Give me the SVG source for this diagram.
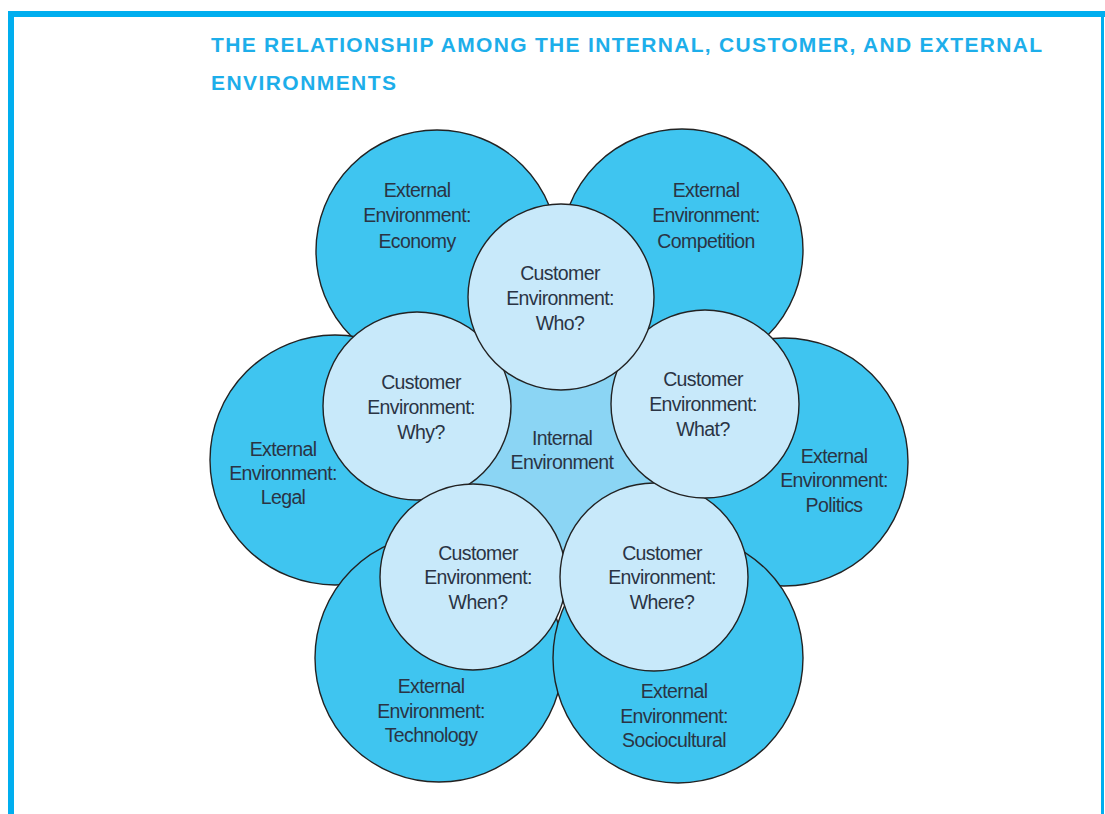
<svg xmlns="http://www.w3.org/2000/svg" width="1105" height="814" viewBox="0 0 1105 814">
<style>
.ext{fill:#3fc5f0;stroke:#222;stroke-width:1.4}
.cus{fill:#c8e9fa;stroke:#222;stroke-width:1.4}
.int{fill:#8bd5f4;stroke:#222;stroke-width:1.4}
.lbl{font-family:"Liberation Sans",Arial,sans-serif;font-size:19.5px;fill:#2a3444;text-anchor:middle;letter-spacing:-0.6px}
.ttl{font-family:"Liberation Sans",Arial,sans-serif;font-size:21px;font-weight:bold;fill:#1daeea}
.bd{fill:#00aeef}
</style>
<rect width="1105" height="814" fill="#ffffff"/>
<g id="frame">
<rect class="bd" x="8" y="11" width="1097" height="6"/>
<rect class="bd" x="8" y="11" width="6" height="803"/>
<rect class="bd" x="1101" y="11" width="3" height="803"/>
</g>
<g id="title">
<text class="ttl" x="211" y="52" textLength="831" lengthAdjust="spacing">THE RELATIONSHIP AMONG THE INTERNAL, CUSTOMER, AND EXTERNAL</text>
<text class="ttl" x="211" y="90" textLength="185" lengthAdjust="spacing">ENVIRONMENTS</text>
</g>
<g id="ext-economy"><circle class="ext" cx="437" cy="251" r="121"/></g>
<g id="ext-competition"><circle class="ext" cx="682" cy="250" r="121"/></g>
<g id="ext-legal"><circle class="ext" cx="335" cy="460" r="125"/></g>
<g id="ext-politics"><circle class="ext" cx="784" cy="462" r="124"/></g>
<g id="ext-technology"><circle class="ext" cx="439" cy="658" r="124"/></g>
<g id="ext-sociocultural"><circle class="ext" cx="678" cy="658" r="125"/></g>
<g id="internal"><circle class="int" cx="562" cy="452" r="125"/></g>
<g id="cus-why"><circle class="cus" cx="417" cy="406" r="94"/></g>
<g id="cus-when"><circle class="cus" cx="473" cy="577" r="93"/></g>
<g id="cus-where"><circle class="cus" cx="654" cy="577" r="94"/></g>
<g id="cus-what"><circle class="cus" cx="705" cy="404" r="94"/></g>
<g id="cus-who"><circle class="cus" cx="561" cy="297" r="93"/></g>
<g id="labels">
<text class="lbl" x="417" y="197">External</text>
<text class="lbl" x="417" y="222">Environment:</text>
<text class="lbl" x="417" y="248">Economy</text>
<text class="lbl" x="706" y="197">External</text>
<text class="lbl" x="706" y="222">Environment:</text>
<text class="lbl" x="706" y="248">Competition</text>
<text class="lbl" x="560" y="280">Customer</text>
<text class="lbl" x="560" y="305">Environment:</text>
<text class="lbl" x="560" y="330">Who?</text>
<text class="lbl" x="421" y="389">Customer</text>
<text class="lbl" x="421" y="414">Environment:</text>
<text class="lbl" x="421" y="439">Why?</text>
<text class="lbl" x="703" y="386">Customer</text>
<text class="lbl" x="703" y="411">Environment:</text>
<text class="lbl" x="703" y="436">What?</text>
<text class="lbl" x="283" y="456">External</text>
<text class="lbl" x="283" y="480">Environment:</text>
<text class="lbl" x="283" y="504">Legal</text>
<text class="lbl" x="562" y="445">Internal</text>
<text class="lbl" x="562" y="469">Environment</text>
<text class="lbl" x="834" y="463">External</text>
<text class="lbl" x="834" y="487">Environment:</text>
<text class="lbl" x="834" y="512">Politics</text>
<text class="lbl" x="478" y="560">Customer</text>
<text class="lbl" x="478" y="584">Environment:</text>
<text class="lbl" x="478" y="609">When?</text>
<text class="lbl" x="662" y="560">Customer</text>
<text class="lbl" x="662" y="584">Environment:</text>
<text class="lbl" x="662" y="609">Where?</text>
<text class="lbl" x="431" y="693">External</text>
<text class="lbl" x="431" y="718">Environment:</text>
<text class="lbl" x="431" y="742">Technology</text>
<text class="lbl" x="674" y="698">External</text>
<text class="lbl" x="674" y="723">Environment:</text>
<text class="lbl" x="674" y="747">Sociocultural</text>
</g>
<g id="connectors"/>
</svg>
